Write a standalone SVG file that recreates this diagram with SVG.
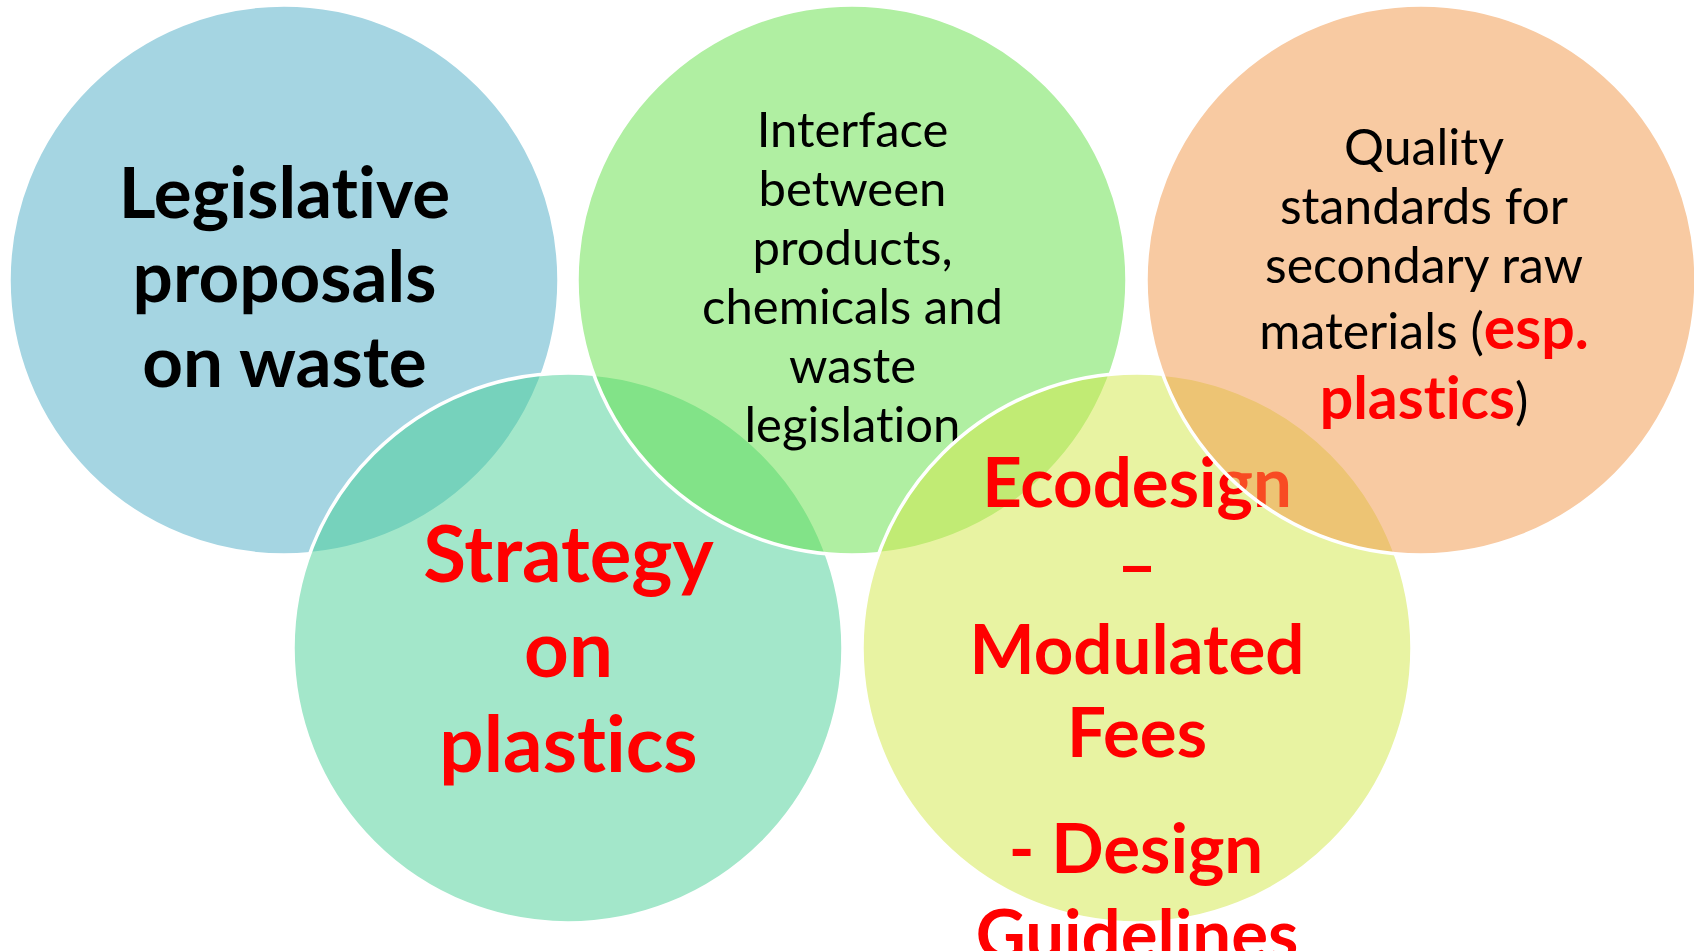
<svg xmlns="http://www.w3.org/2000/svg" width="1694" height="951" viewBox="0 0 1694 951">
<style>
.c{stroke:#fff;stroke-width:3.5;fill-opacity:0.5}
text{font-family:Lato,"Open Sans","Liberation Sans",sans-serif;text-anchor:middle;font-variant-ligatures:none;font-feature-settings:"liga" 0,"dlig" 0}
.b{font-weight:bold}
.k{fill:#000}
.r{fill:#ff0000}
</style>
<rect width="1694" height="951" fill="#fff"/>
<g id="legislative">
<circle class="c" cx="284" cy="280" r="275" fill="#4BABC5"/>
<text class="b k" font-size="71"><tspan x="284.5" y="218">Legislative</tspan><tspan x="284.5" y="302">proposals</tspan><tspan x="284.5" y="387">on waste</tspan></text>
</g>
<g id="strategy">
<circle class="c" cx="568" cy="648" r="275" fill="#47CF95"/>
<text class="b r" font-size="78"><tspan x="568.5" y="582">Strategy</tspan><tspan x="568.5" y="677">on</tspan><tspan x="568.5" y="772">plastics</tspan></text>
</g>
<g id="interface">
<circle class="c" cx="852" cy="280" r="275" fill="#61DF45"/>
<text class="k" font-size="49"><tspan x="852.5" y="147">Interface</tspan><tspan x="852.5" y="206">between</tspan><tspan x="852.5" y="265">products,</tspan><tspan x="852.5" y="324">chemicals and</tspan><tspan x="852.5" y="383">waste</tspan><tspan x="852.5" y="442">legislation</tspan></text>
</g>
<g id="ecodesign">
<circle class="c" cx="1137" cy="648" r="275" fill="#D1E745"/>
<text class="b r" font-size="69"><tspan x="1137" y="507">Ecodesign</tspan><tspan x="1137" y="590">–</tspan><tspan x="1137" y="674">Modulated</tspan><tspan x="1137" y="757">Fees</tspan><tspan x="1136" y="873">- Design</tspan><tspan x="1137" y="959">Guidelines</tspan></text>
</g>
<g id="quality">
<circle class="c" cx="1421" cy="280" r="275" fill="#F19545"/>
<text class="k" font-size="50"><tspan x="1424" y="165">Quality</tspan><tspan x="1424" y="224">standards for</tspan><tspan x="1424" y="283">secondary raw</tspan><tspan x="1424" y="349">materials (<tspan class="b r" font-size="59">esp.</tspan></tspan><tspan x="1424" y="419"><tspan class="b r" font-size="59">plastics</tspan>)</tspan></text>
</g>
</svg>
